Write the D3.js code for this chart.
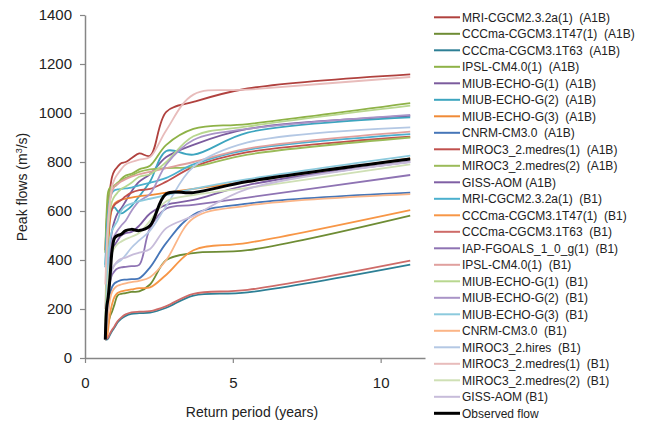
<!DOCTYPE html>
<html>
<head>
<meta charset="utf-8">
<script src="https://cdn.jsdelivr.net/npm/d3@7/dist/d3.min.js"></script>
<style>
  html, body { margin: 0; padding: 0; background: #fff; }
  svg { display: block; font-family: "Liberation Sans", Arial, sans-serif; }
  .legend text { white-space: pre; }
</style>
</head>
<body>
<svg id="chart" width="651" height="422"></svg>
<script>
// Return periods (years) shared by every ranked series: 11 / rank
const returnPeriods = [0.6875, 0.7333, 0.7857, 0.8462, 0.9167, 1.0, 1.1, 1.2222, 1.375, 1.5714, 1.8333, 2.2, 2.75, 3.6667, 5.5, 11];

const xTicks = [0, 5, 10];
const yTicks = [0, 200, 400, 600, 800, 1000, 1200, 1400];

// Peak flows (m3/s) per model run, in the order of returnPeriods
const mriA1B       = [440, 560, 640, 690, 740, 765, 780, 795, 800, 815, 835, 825, 1005, 1045, 1100, 1158];
const cccT47A1B    = [75, 100, 140, 170, 190, 220, 255, 262, 265, 270, 272, 300, 400, 428, 440, 581];
const cccT63A1B    = [75, 75, 80, 95, 110, 125, 145, 160, 172, 180, 183, 185, 205, 255, 268, 381];
const ipslA1B      = [430, 600, 680, 695, 700, 700, 710, 730, 745, 752, 770, 785, 870, 935, 955, 1040];
const miub1A1B     = [75, 200, 350, 450, 520, 560, 590, 610, 640, 680, 720, 750, 820, 870, 935, 988];
const miub2A1B     = [370, 480, 560, 600, 610, 615, 600, 590, 600, 620, 660, 720, 845, 830, 920, 982];
const miub3A1B     = [75, 250, 450, 560, 610, 630, 640, 645, 650, 655, 660, 665, 675, 690, 720, 815];
const cnrmA1B      = [75, 120, 200, 260, 290, 305, 312, 318, 320, 322, 325, 370, 470, 585, 630, 675];
const miroc1A1B    = [75, 300, 500, 580, 610, 625, 635, 645, 660, 675, 685, 690, 720, 780, 840, 903];
const miroc2A1B    = [75, 350, 600, 680, 700, 705, 715, 725, 735, 745, 760, 770, 775, 780, 830, 900];
const gissA1B      = [75, 200, 330, 400, 440, 460, 480, 500, 510, 515, 540, 590, 625, 645, 706, 801];
const mriB1        = [380, 520, 600, 650, 675, 685, 688, 690, 692, 695, 705, 715, 735, 790, 850, 914];
const cccT47B1     = [75, 80, 120, 180, 220, 250, 265, 272, 276, 280, 285, 288, 340, 440, 470, 604];
const cccT63B1     = [75, 78, 85, 100, 115, 130, 150, 165, 178, 186, 189, 191, 212, 262, 278, 397];
const iapB1        = [75, 150, 250, 310, 340, 355, 365, 370, 372, 375, 380, 530, 610, 625, 655, 747];
const ipslB1       = [200, 400, 560, 640, 680, 700, 710, 720, 730, 740, 750, 760, 775, 800, 855, 924];
const miub1B1      = [150, 350, 520, 600, 640, 660, 675, 690, 700, 715, 740, 750, 800, 905, 945, 1030];
const miub2B1      = [75, 200, 380, 450, 480, 500, 520, 540, 560, 600, 640, 670, 790, 890, 935, 992];
const miub3B1      = [75, 250, 420, 480, 520, 540, 560, 600, 620, 630, 640, 650, 665, 690, 730, 826];
const cnrmB1       = [75, 110, 180, 240, 270, 285, 295, 300, 305, 310, 315, 330, 400, 570, 622, 669];
const mirocHiB1    = [75, 150, 250, 320, 360, 380, 390, 400, 420, 450, 480, 520, 620, 780, 880, 941];
const miroc1B1     = [300, 450, 560, 640, 700, 730, 750, 770, 790, 800, 810, 820, 930, 1075, 1095, 1147];
const miroc2B1     = [75, 200, 320, 390, 430, 450, 465, 475, 485, 495, 510, 560, 640, 665, 694, 790];
const gissB1       = [75, 150, 250, 320, 360, 380, 395, 405, 410, 420, 430, 445, 530, 580, 690, 800];
const observed     = [75, 205, 250, 330, 440, 490, 500, 505, 520, 525, 520, 540, 670, 675, 720, 812];

const seriesNames = [
  "MRI-CGCM2.3.2a(1)  (A1B)", "CCCma-CGCM3.1T47(1)  (A1B)", "CCCma-CGCM3.1T63  (A1B)",
  "IPSL-CM4.0(1)  (A1B)", "MIUB-ECHO-G(1)  (A1B)", "MIUB-ECHO-G(2)  (A1B)", "MIUB-ECHO-G(3)  (A1B)",
  "CNRM-CM3.0  (A1B)", "MIROC3_2.medres(1)  (A1B)", "MIROC3_2.medres(2)  (A1B)", "GISS-AOM (A1B)",
  "MRI-CGCM2.3.2a(1)  (B1)", "CCCma-CGCM3.1T47(1)  (B1)", "CCCma-CGCM3.1T63  (B1)",
  "IAP-FGOALS_1_0_g(1)  (B1)", "IPSL-CM4.0(1)  (B1)", "MIUB-ECHO-G(1)  (B1)", "MIUB-ECHO-G(2)  (B1)",
  "MIUB-ECHO-G(3)  (B1)", "CNRM-CM3.0  (B1)", "MIROC3_2.hires  (B1)", "MIROC3_2.medres(1)  (B1)",
  "MIROC3_2.medres(2)  (B1)", "GISS-AOM (B1)", "Observed flow"
];
const seriesValues = [
  mriA1B, cccT47A1B, cccT63A1B, ipslA1B, miub1A1B, miub2A1B, miub3A1B, cnrmA1B, miroc1A1B,
  miroc2A1B, gissA1B, mriB1, cccT47B1, cccT63B1, iapB1, ipslB1, miub1B1, miub2B1, miub3B1,
  cnrmB1, mirocHiB1, miroc1B1, miroc2B1, gissB1, observed
];
const seriesColors = [
  "#B0413E", "#6E8C34", "#2D7F95", "#8EB247", "#7B5B9D", "#3DA5BF", "#F08A36", "#4676B8",
  "#C0504D", "#9BBB59", "#7F5FA4", "#4BB0CE", "#F79646", "#CE6B68", "#8E73B3", "#E0A09E",
  "#B8D78F", "#A994C7", "#8CCADD", "#FBB587", "#B4C8E4", "#E8BCBB", "#CFE0B5", "#C7BCDA", "#000000"
];

const series = seriesNames.map((name, i) => ({
  name,
  color: seriesColors[i],
  observed: i === seriesNames.length - 1,
  points: returnPeriods.map((t, j) => ({ t, q: seriesValues[i][j] }))
}));

const svg = d3.select("#chart");
const x = d3.scaleLinear().domain([0, 11.5]).range([85, 425]);
const y = d3.scaleLinear().domain([0, 1400]).range([358, 15]);
const axisColor = "#868686";

// Axes
const xAxis = svg.append("g").attr("transform", `translate(0,${y(0)})`)
  .call(d3.axisBottom(x).tickValues(xTicks).tickFormat(d3.format("d"))
    .tickSize(5).tickSizeOuter(0).tickPadding(14));
const yAxis = svg.append("g").attr("transform", `translate(${x(0)},0)`)
  .call(d3.axisLeft(y).tickValues(yTicks).tickFormat(d3.format("d"))
    .tickSize(5).tickSizeOuter(0).tickPadding(8));
[xAxis, yAxis].forEach(g => {
  g.select(".domain").attr("stroke", axisColor).attr("stroke-width", 1.5);
  g.selectAll(".tick line").attr("stroke", axisColor).attr("stroke-width", 1.2);
  g.selectAll(".tick text").attr("fill", "#222").style("font-size", "15px")
    .style("font-family", '"Liberation Sans", Arial, sans-serif');
});

// Series lines
const line = d3.line().x(d => x(d.t)).y(d => y(d.q)).curve(d3.curveCatmullRom.alpha(0.5));
svg.append("g").selectAll("path").data(series).join("path")
  .attr("d", d => line(d.points))
  .attr("fill", "none")
  .attr("stroke", d => d.color)
  .attr("stroke-width", d => d.observed ? 3 : 1.8)
  .attr("stroke-linejoin", "round");

// Axis titles
svg.append("text").attr("x", 252).attr("y", 417).attr("text-anchor", "middle")
  .style("font-size", "14px").attr("fill", "#222").text("Return period (years)");
const yt = svg.append("text").attr("transform", "translate(27,187) rotate(-90)")
  .attr("text-anchor", "middle").style("font-size", "14px").attr("fill", "#222");
yt.append("tspan").text("Peak flows (m");
yt.append("tspan").attr("dy", -5).style("font-size", "9px").text("3");
yt.append("tspan").attr("dy", 5).text("/s)");

// Legend
const legend = svg.append("g").attr("class", "legend");
const item = legend.selectAll("g").data(series).join("g")
  .attr("transform", (d, i) => `translate(434,${17.3 + i * 16.5})`);
item.append("line").attr("x1", 0).attr("x2", 26).attr("y1", 0).attr("y2", 0)
  .attr("stroke", d => d.color).attr("stroke-width", d => d.observed ? 3 : 2);
item.append("text").attr("x", 28).attr("y", 4.5).style("font-size", "12px").attr("fill", "#222")
  .text(d => d.name);
</script>
</body>
</html>
